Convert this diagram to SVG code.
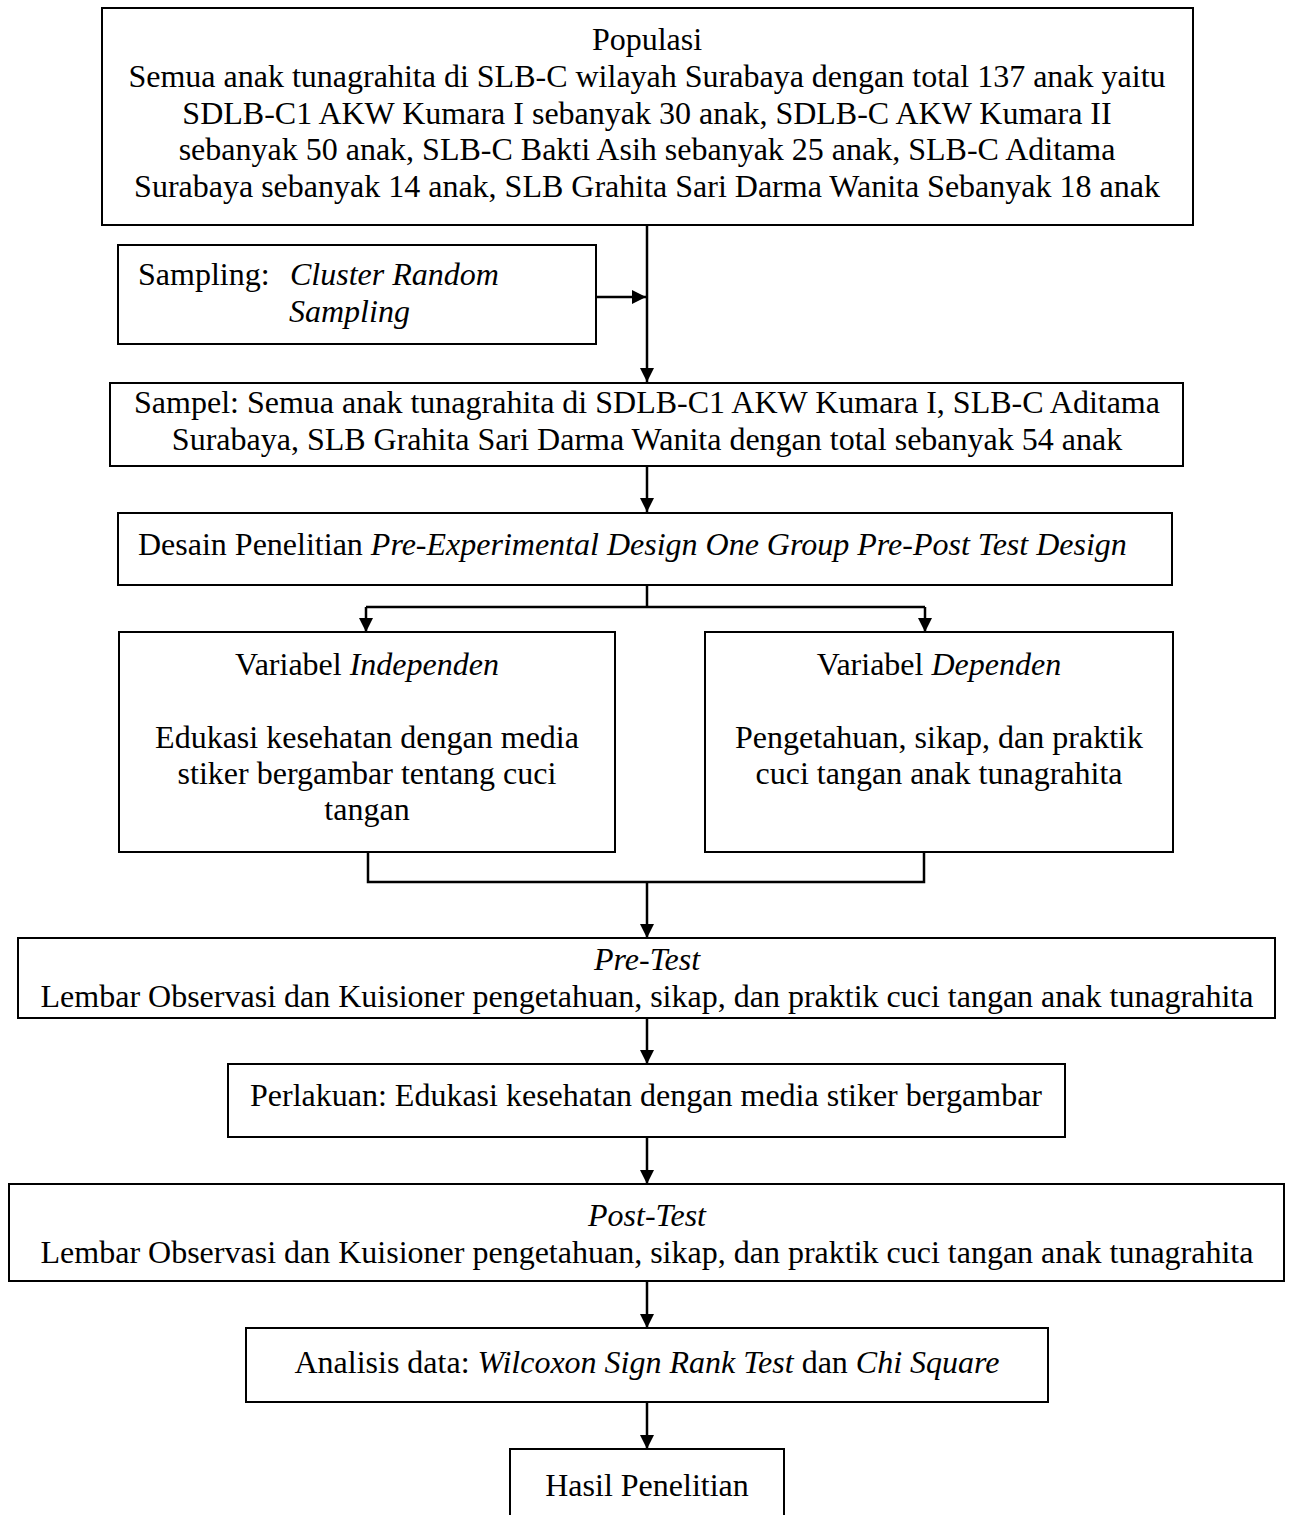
<svg xmlns="http://www.w3.org/2000/svg" width="1289" height="1515" viewBox="0 0 1289 1515">
<defs>
<style>
.box{fill:#fff;stroke:#000;stroke-width:2}
.t{font-family:"Liberation Serif","Times New Roman",serif;font-size:32px;fill:#000}
.c{text-anchor:middle}
.i{font-style:italic}
.ln{fill:none;stroke:#000;stroke-width:2.5}
</style>
<marker id="ah" viewBox="0 0 10 10" refX="10" refY="5" markerWidth="14" markerHeight="15" markerUnits="userSpaceOnUse" orient="auto">
<path d="M0,0 L10,5 L0,10 z" fill="#000"/>
</marker>
</defs>
<rect width="1289" height="1515" fill="#fff"/>

<g id="connectors">
<line class="ln" x1="647" y1="225" x2="647" y2="382" marker-end="url(#ah)"/>
<line class="ln" x1="596" y1="297" x2="646" y2="297" marker-end="url(#ah)"/>
<line class="ln" x1="647" y1="466" x2="647" y2="512" marker-end="url(#ah)"/>
<path class="ln" d="M647,584 V607"/>
<path class="ln" d="M366,607 H925"/>
<line class="ln" x1="366" y1="607" x2="366" y2="632" marker-end="url(#ah)"/>
<line class="ln" x1="925" y1="607" x2="925" y2="632" marker-end="url(#ah)"/>
<path class="ln" d="M368,851 V882 H924 V851"/>
<line class="ln" x1="647" y1="882" x2="647" y2="938" marker-end="url(#ah)"/>
<line class="ln" x1="647" y1="1018" x2="647" y2="1064" marker-end="url(#ah)"/>
<line class="ln" x1="647" y1="1137" x2="647" y2="1184" marker-end="url(#ah)"/>
<line class="ln" x1="647" y1="1281" x2="647" y2="1328" marker-end="url(#ah)"/>
<line class="ln" x1="647" y1="1402" x2="647" y2="1449" marker-end="url(#ah)"/>
</g>

<g id="populasi">
<rect class="box" x="102" y="8" width="1091" height="217"/>
<text class="t c" x="647" y="50">Populasi</text>
<text class="t c" x="647" y="87">Semua anak tunagrahita di SLB-C wilayah Surabaya dengan total 137 anak yaitu</text>
<text class="t c" x="647" y="124">SDLB-C1 AKW Kumara I sebanyak 30 anak, SDLB-C AKW Kumara II</text>
<text class="t c" x="647" y="160">sebanyak 50 anak, SLB-C Bakti Asih sebanyak 25 anak, SLB-C Aditama</text>
<text class="t c" x="647" y="197">Surabaya sebanyak 14 anak, SLB Grahita Sari Darma Wanita Sebanyak 18 anak</text>
</g>

<g id="sampling">
<rect class="box" x="118" y="245" width="478" height="99"/>
<text class="t" x="138" y="285">Sampling:</text>
<text class="t i" x="290" y="285">Cluster Random</text>
<text class="t i" x="289" y="322">Sampling</text>
</g>

<g id="sampel">
<rect class="box" x="110" y="383" width="1073" height="83"/>
<text class="t c" x="647" y="413">Sampel: Semua anak tunagrahita di SDLB-C1 AKW Kumara I, SLB-C Aditama</text>
<text class="t c" x="647" y="450">Surabaya, SLB Grahita Sari Darma Wanita dengan total sebanyak 54 anak</text>
</g>

<g id="desain">
<rect class="box" x="118" y="513" width="1054" height="72"/>
<text class="t" x="138" y="555">Desain Penelitian <tspan class="i">Pre-Experimental Design One Group Pre-Post Test Design</tspan></text>
</g>

<g id="independen">
<rect class="box" x="119" y="632" width="496" height="220"/>
<text class="t c" x="367" y="675">Variabel <tspan class="i">Independen</tspan></text>
<text class="t c" x="367" y="748">Edukasi kesehatan dengan media</text>
<text class="t c" x="367" y="784">stiker bergambar tentang cuci</text>
<text class="t c" x="367" y="820">tangan</text>
</g>

<g id="dependen">
<rect class="box" x="705" y="632" width="468" height="220"/>
<text class="t c" x="939" y="675">Variabel <tspan class="i">Dependen</tspan></text>
<text class="t c" x="939" y="748">Pengetahuan, sikap, dan praktik</text>
<text class="t c" x="939" y="784">cuci tangan anak tunagrahita</text>
</g>

<g id="pretest">
<rect class="box" x="18" y="938" width="1257" height="80"/>
<text class="t c i" x="647" y="970">Pre-Test</text>
<text class="t c" x="647" y="1007">Lembar Observasi dan Kuisioner pengetahuan, sikap, dan praktik cuci tangan anak tunagrahita</text>
</g>

<g id="perlakuan">
<rect class="box" x="228" y="1064" width="837" height="73"/>
<text class="t c" x="646" y="1106">Perlakuan: Edukasi kesehatan dengan media stiker bergambar</text>
</g>

<g id="posttest">
<rect class="box" x="9" y="1184" width="1275" height="97"/>
<text class="t c i" x="647" y="1226">Post-Test</text>
<text class="t c" x="647" y="1263">Lembar Observasi dan Kuisioner pengetahuan, sikap, dan praktik cuci tangan anak tunagrahita</text>
</g>

<g id="analisis">
<rect class="box" x="246" y="1328" width="802" height="74"/>
<text class="t c" x="647" y="1373">Analisis data: <tspan class="i">Wilcoxon Sign Rank Test</tspan> dan <tspan class="i">Chi Square</tspan></text>
</g>

<g id="hasil">
<rect class="box" x="510" y="1449" width="274" height="90"/>
<text class="t c" x="647" y="1496">Hasil Penelitian</text>
</g>
</svg>
